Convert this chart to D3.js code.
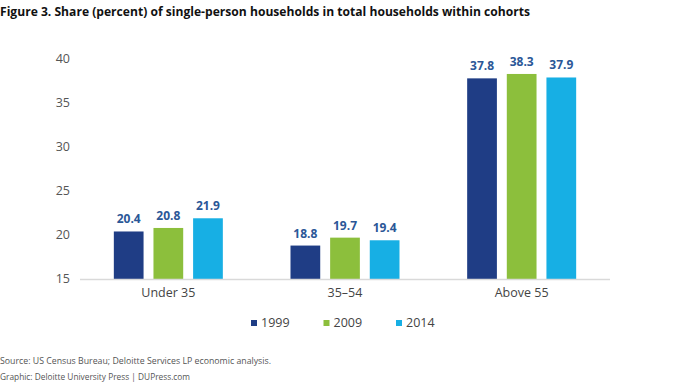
<!DOCTYPE html>
<html><head><meta charset="utf-8">
<script src="https://cdn.jsdelivr.net/npm/d3@7"></script>
<style>
body{margin:0;background:#fff;}
svg{display:block;font-family:"Open Sans",sans-serif;}
</style></head>
<body><svg id="c" width="680" height="384"></svg>
<script>
const categories = ["Under 35", "35\u201354", "Above 55"];
const seriesNames = ["1999", "2009", "2014"];
const values1999 = [20.4, 18.8, 37.8];
const values2009 = [20.8, 19.7, 38.3];
const values2014 = [21.9, 19.4, 37.9];
const yTicks = [15, 20, 25, 30, 35, 40];
const colors = ["#1f3d85", "#8cbf3c", "#17afe4"];

const series = [values1999, values2009, values2014];
const svg = d3.select("#c");

svg.append("text").attr("x", 0).attr("y", 16)
  .attr("font-size", 12.4).attr("font-weight", 700).attr("fill", "#111")
  .attr("textLength", 530).attr("lengthAdjust", "spacingAndGlyphs")
  .text("Figure 3. Share (percent) of single-person households in total households within cohorts");

const x0 = d3.scaleBand().domain(categories).range([80, 610]).paddingInner(0.383).paddingOuter(0.1915);
const x1 = d3.scaleBand().domain(seriesNames).range([0, x0.bandwidth()]).paddingInner(0.25);
const y = d3.scaleLinear().domain([15, 40]).range([279, 59]);

// y tick labels
svg.append("g").selectAll("text").data(yTicks).join("text")
  .attr("x", 70).attr("y", d => y(d)).attr("dy", "0.35em")
  .attr("text-anchor", "end").attr("font-size", 12.5).attr("fill", "#555")
  .text(d => d);

// bars
const g = svg.append("g");
categories.forEach((c, ci) => {
  seriesNames.forEach((s, si) => {
    const v = series[si][ci];
    const bx = x0(c) + x1(s);
    g.append("rect").attr("x", bx).attr("y", y(v))
      .attr("width", x1.bandwidth()).attr("height", y(15) - y(v))
      .attr("fill", colors[si]);
    g.append("text").attr("x", bx + x1.bandwidth() / 2).attr("y", y(v) - 8)
      .attr("text-anchor", "middle").attr("font-size", 12).attr("font-weight", 700)
      .attr("fill", "#2b5797").text(v.toFixed(1));
  });
});

// baseline
svg.append("line").attr("x1", 80).attr("x2", 610).attr("y1", 279.5).attr("y2", 279.5)
  .attr("stroke", "#d9d9d9").attr("stroke-width", 1.5);

// category labels
svg.append("g").selectAll("text").data(categories).join("text")
  .attr("x", d => x0(d) + x0.bandwidth() / 2).attr("y", 293).attr("dy", "0.35em")
  .attr("text-anchor", "middle").attr("font-size", 12.5).attr("fill", "#444")
  .text(d => d);

// legend
const lg = svg.append("g");
seriesNames.forEach((s, i) => {
  const lx = 251 + i * 72.5;
  lg.append("rect").attr("x", lx).attr("y", 320).attr("width", 6).attr("height", 6).attr("fill", colors[i]);
  lg.append("text").attr("x", lx + 10).attr("y", 323).attr("dy", "0.35em")
    .attr("font-size", 12.5).attr("fill", "#444").text(s);
});

// footer
svg.append("text").attr("x", 0).attr("y", 361).attr("dy", "0.35em")
  .attr("font-size", 9.6).attr("fill", "#555")
  .attr("textLength", 271).attr("lengthAdjust", "spacingAndGlyphs")
  .text("Source: US Census Bureau; Deloitte Services LP economic analysis.");
svg.append("text").attr("x", 0).attr("y", 377).attr("dy", "0.35em")
  .attr("font-size", 9.6).attr("fill", "#555")
  .attr("textLength", 190).attr("lengthAdjust", "spacingAndGlyphs")
  .text("Graphic: Deloitte University Press  |  DUPress.com");
</script></body></html>
